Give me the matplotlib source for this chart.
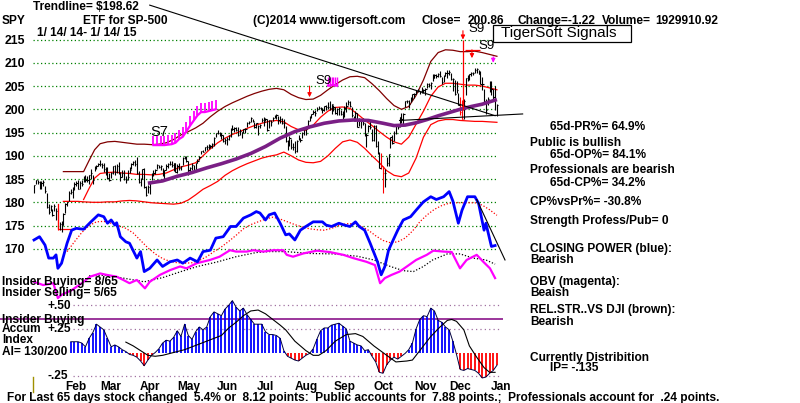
import matplotlib
matplotlib.use("Agg")
import matplotlib.pyplot as plt
from matplotlib.patches import Rectangle
import numpy as np

plt.rcParams['font.family'] = ['Liberation Sans', 'DejaVu Sans']

# SPY daily bars 1/14/14 - 1/14/15, one list per month
close_m = [
    [183.7, 184.7, 184.4, 183.6, 184.2, 184.3, 182.4, 178.9, 178.0, 179.1, 177.3, 179.2, 178.2],
    [174.2, 175.4, 175.2, 177.5, 179.7, 180.0, 182.1, 182.2, 183.0, 184.0, 184.2, 182.9, 184.1, 183.9, 185.0, 184.9, 184.9, 185.8, 186.3],
    [184.9, 187.6, 187.8, 188.2, 188.3, 188.1, 187.2, 187.4, 185.2, 184.7, 186.3, 187.7, 186.6, 187.8, 186.2, 185.4, 186.3, 185.0, 184.7, 185.5, 187.0],
    [188.3, 188.6, 188.2, 186.4, 184.3, 185.1, 187.1, 183.2, 181.5, 183.2, 184.2, 186.1, 186.4, 187.0, 188.0, 187.6, 187.8, 186.3, 186.9, 187.9, 188.3],
    [188.3, 188.1, 188.4, 186.6, 187.7, 187.4, 187.7, 189.6, 189.7, 188.8, 186.9, 187.4, 188.1, 186.9, 188.4, 188.9, 189.8, 191.0, 190.9, 191.9, 192.0],
    [192.4, 192.2, 192.6, 193.9, 194.8, 195.0, 195.0, 194.4, 193.1, 193.5, 193.7, 194.2, 195.6, 195.8, 195.9, 195.6, 194.5, 195.4, 195.1, 195.8, 195.7],
    [197.0, 197.2, 198.2, 197.5, 196.2, 197.0, 196.4, 196.6, 197.6, 197.2, 197.9, 195.6, 197.6, 197.2, 198.2, 198.6, 198.7, 197.8, 197.9, 197.0, 197.0, 193.1],
    [192.5, 193.9, 191.9, 192.0, 191.0, 193.2, 193.8, 193.5, 194.8, 195.7, 195.7, 197.4, 198.4, 198.9, 199.4, 199.2, 200.1, 200.3, 200.3, 199.8, 200.7],
    [200.6, 200.5, 200.2, 201.1, 200.5, 199.2, 200.0, 200.2, 198.9, 198.8, 200.3, 200.7, 201.6, 200.7, 198.7, 197.6, 199.2, 196.3, 197.9, 197.5, 197.0],
    [194.4, 194.4, 196.5, 196.3, 193.3, 196.5, 192.1, 190.5, 187.4, 187.7, 186.4, 186.3, 188.5, 190.3, 194.1, 192.7, 195.0, 196.4, 196.2, 198.4, 197.9, 199.0, 201.7],
    [201.8, 201.1, 202.3, 203.2, 203.3, 203.9, 204.2, 203.9, 204.2, 204.2, 204.4, 205.5, 205.2, 205.6, 206.7, 207.3, 207.1, 207.6, 207.2],
    [205.8, 207.1, 207.9, 207.7, 208.0, 206.6, 206.5, 203.2, 204.2, 200.9, 199.5, 197.9, 201.8, 206.8, 206.5, 207.5, 207.9, 207.9, 208.4, 208.7, 207.6, 205.5],
    [205.4, 201.7, 199.8, 202.3, 205.9, 204.3, 202.7, 202.1, 200.9],
]
high_m = [
    [183.8, 184.9, 184.8, 184.6, 184.6, 184.7, 183.6, 182.0, 179.6, 179.4, 178.5, 179.7, 178.8],
    [178.8, 175.8, 176.0, 177.6, 179.9, 180.1, 182.4, 182.8, 183.2, 184.4, 184.6, 184.9, 184.5, 184.9, 185.6, 185.9, 185.6, 185.9, 187.1],
    [185.9, 187.9, 188.0, 188.4, 189.0, 188.4, 188.4, 187.5, 187.6, 186.2, 186.6, 187.8, 188.1, 188.3, 188.7, 186.6, 187.0, 186.9, 185.6, 186.9, 187.6],
    [188.4, 188.8, 189.0, 189.7, 186.8, 185.3, 187.2, 187.4, 183.5, 183.8, 184.5, 186.3, 187.0, 187.1, 188.3, 188.0, 188.0, 187.4, 187.0, 188.3, 188.4],
    [188.9, 188.8, 188.5, 188.4, 188.2, 188.5, 187.9, 189.7, 190.0, 189.9, 188.9, 187.5, 188.5, 188.1, 188.5, 189.4, 189.9, 191.1, 191.3, 192.0, 192.3],
    [192.6, 192.4, 192.8, 194.1, 195.0, 195.5, 195.1, 194.8, 194.5, 193.8, 194.0, 194.4, 195.9, 196.6, 196.1, 196.2, 196.3, 195.7, 195.2, 195.8, 196.0],
    [197.3, 197.4, 198.3, 198.0, 197.3, 197.1, 196.6, 196.8, 198.1, 198.3, 198.1, 197.9, 197.7, 197.6, 198.3, 198.8, 198.9, 198.5, 198.5, 198.1, 197.9, 196.4],
    [193.4, 194.3, 193.6, 192.8, 193.2, 193.5, 194.4, 193.8, 195.1, 195.8, 196.2, 197.6, 198.6, 199.0, 199.8, 199.8, 200.6, 200.8, 200.6, 200.3, 200.8],
    [201.0, 201.6, 201.7, 201.2, 201.0, 200.6, 200.2, 200.4, 199.9, 199.6, 200.7, 201.5, 201.9, 201.8, 200.4, 198.6, 199.6, 199.2, 198.2, 197.6, 198.2],
    [197.0, 195.0, 196.6, 197.6, 195.8, 196.6, 196.6, 193.1, 190.9, 190.5, 187.8, 187.2, 189.8, 190.4, 194.1, 194.5, 195.4, 196.4, 196.8, 198.4, 199.2, 199.3, 201.8],
    [202.0, 201.9, 202.6, 203.3, 203.4, 204.1, 204.4, 204.0, 204.8, 204.4, 204.5, 205.7, 205.7, 205.8, 207.5, 207.5, 207.5, 207.7, 208.2],
    [207.0, 207.3, 208.1, 208.5, 208.5, 207.9, 206.7, 206.3, 206.1, 203.5, 202.6, 201.9, 202.3, 206.8, 207.3, 207.5, 208.0, 208.1, 208.9, 208.9, 208.5, 208.2],
    [206.9, 204.4, 202.3, 202.7, 206.0, 206.1, 204.4, 205.0, 201.1],
]
low_m = [
    [182.0, 183.9, 183.9, 182.8, 182.9, 183.6, 181.9, 178.8, 177.5, 178.1, 177.0, 178.1, 176.3],
    [174.0, 174.1, 173.7, 175.2, 177.7, 179.1, 180.2, 181.7, 180.9, 182.6, 183.6, 182.8, 182.8, 183.6, 184.3, 184.3, 184.3, 183.9, 185.1],
    [183.9, 186.7, 187.1, 187.7, 187.7, 187.4, 186.6, 185.8, 185.1, 184.6, 185.3, 186.1, 185.8, 186.4, 186.1, 184.6, 185.5, 184.9, 184.2, 184.8, 186.3],
    [187.1, 188.0, 187.8, 186.0, 184.2, 183.4, 185.1, 183.1, 181.3, 182.0, 181.7, 184.7, 185.6, 186.0, 187.2, 187.3, 186.9, 185.6, 185.0, 187.0, 187.4],
    [188.0, 187.6, 186.8, 186.5, 186.4, 186.9, 186.9, 188.0, 189.3, 188.6, 185.9, 186.3, 187.0, 186.5, 187.0, 188.5, 189.0, 190.3, 190.8, 191.0, 191.3],
    [191.4, 191.6, 191.6, 192.1, 194.0, 194.7, 194.3, 193.6, 192.9, 192.6, 192.4, 193.3, 194.0, 195.6, 195.2, 195.3, 194.3, 194.4, 193.9, 194.8, 195.0],
    [196.1, 196.8, 197.3, 197.2, 196.0, 196.0, 194.5, 195.9, 197.3, 196.4, 197.5, 195.3, 195.9, 196.4, 197.5, 198.1, 197.9, 196.8, 197.0, 196.9, 196.0, 193.0],
    [191.3, 192.1, 191.5, 191.2, 190.6, 190.8, 193.4, 192.9, 193.9, 194.5, 194.4, 196.1, 197.4, 198.2, 198.9, 198.6, 199.6, 200.0, 199.8, 199.1, 199.6],
    [199.8, 200.1, 199.8, 199.0, 199.7, 199.0, 198.8, 198.8, 198.7, 197.9, 198.4, 199.5, 201.0, 200.5, 198.4, 197.5, 197.5, 196.2, 196.4, 196.0, 196.6],
    [194.2, 191.8, 195.2, 195.7, 193.2, 193.1, 192.0, 190.3, 187.3, 187.2, 181.9, 183.2, 187.8, 187.7, 191.6, 192.6, 193.2, 194.6, 195.7, 196.3, 197.1, 196.8, 200.6],
    [201.4, 200.2, 201.6, 201.9, 202.4, 203.2, 203.8, 203.3, 203.6, 203.6, 203.1, 204.5, 204.7, 204.3, 206.1, 206.8, 206.8, 207.0, 207.0],
    [205.5, 205.8, 207.1, 206.7, 207.4, 206.2, 203.9, 203.1, 203.6, 200.9, 198.8, 197.9, 197.9, 203.1, 206.1, 206.4, 207.1, 207.4, 207.9, 207.7, 207.5, 205.5],
    [204.2, 201.4, 198.9, 200.9, 203.8, 203.1, 201.9, 199.9, 198.6],
]
red_bar_days = [13, 189, 190, 232, 233]

month_names = ['Feb', 'Mar', 'Apr', 'May', 'Jun', 'Jul', 'Aug', 'Sep', 'Oct', 'Nov', 'Dec', 'Jan']
month_start = [13, 32, 53, 74, 95, 116, 138, 159, 180, 203, 222, 244]
price_ticks = [215, 210, 205, 200, 195, 190, 185, 180, 175, 170]

# bands: upper (brown), 21-day ma and lower band (red), 65-day ma (purple)
up_days = [16, 27, 30, 33, 36] + list(range(40, 253, 4))
up_vals = [186.6, 186.6, 189.0, 191.3, 192.6,
           193.0, 193.1, 192.9, 192.7, 192.5, 192.5, 192.4, 192.5, 192.8, 193.5,
           194.5, 195.2, 196.0, 197.0, 198.4, 199.6, 200.6, 201.4, 202.1, 202.8,
           203.4, 203.9, 204.3, 204.5, 204.2, 203.2, 202.5, 202.1, 202.2, 203.0,
           204.2, 205.3, 206.3, 207.0, 207.1, 206.8, 205.5, 204.0, 202.3, 200.8,
           200.0, 200.6, 203.0, 206.3, 210.3, 212.2, 212.8, 212.7, 212.4, 212.4,
           212.5, 212.2, 211.8, 211.4]
mid_days = [27, 30, 33, 36] + list(range(40, 253, 4))
mid_vals = [180.6, 183.0, 185.2, 186.2,
            186.4, 186.5, 186.3, 186.2, 186.0, 186.0, 185.9, 186.0, 186.3, 187.0,
            187.6, 188.0, 188.5, 190.0, 191.5, 192.8, 193.8, 194.6, 195.2, 195.9,
            196.5, 197.0, 197.4, 197.6, 197.3, 196.3, 195.6, 195.5, 196.6, 198.3,
            199.6, 200.4, 200.5, 200.2, 199.0, 197.7, 196.5, 195.2, 194.0, 193.0,
            192.5, 194.0, 196.8, 199.6, 202.8, 204.8, 205.6, 205.6, 205.4, 205.2,
            205.2, 205.0, 204.6, 204.2]
lo_days = [16, 24, 27, 32, 36] + list(range(40, 253, 4))
lo_vals = [180.2, 180.2, 180.1, 180.0, 180.0,
           180.1, 180.1, 180.3, 180.4, 180.3, 180.1, 179.9, 179.8, 179.7, 179.6,
           179.8, 180.5, 181.6, 182.8, 183.6, 184.5, 185.8, 186.8, 187.6, 188.3,
           188.9, 189.5, 189.9, 190.2, 190.8, 190.0, 189.1, 188.6, 188.5, 188.8,
           190.0, 191.6, 193.0, 193.4, 192.9, 191.6, 190.0, 188.5, 186.8, 185.8,
           185.5, 186.3, 189.5, 194.0, 196.7, 197.5, 197.8, 197.8, 197.6, 197.5,
           197.4, 197.4, 197.3, 197.2]
ma65_days = [62, 70, 78, 86, 94, 102, 110, 118, 126, 134, 142, 150, 158, 166,
             174, 182, 190, 196, 202, 208, 214, 220, 226, 232, 238, 244, 252]
ma65_vals = [184.1, 184.6, 185.6, 186.4, 187.4, 188.3, 189.3, 190.5, 192.0, 193.8,
             195.2, 196.2, 197.0, 197.5, 197.7, 197.6, 197.0, 196.5, 196.6, 197.1,
             197.8, 198.6, 199.3, 200.0, 200.6, 201.1, 202.1]

# closing power (blue) and its ma, OBV (magenta) and its ma, drawn on the price scale
cp_days = [0, 3, 6, 8, 10.5, 12, 13, 15, 18, 20.5, 23, 27, 31, 35, 38, 40, 42, 44, 45, 47,
           50, 52, 56, 58, 60, 63, 67, 70, 74, 78, 81, 85, 89, 92, 96, 99, 103, 107, 110, 114,
           118, 121, 123, 126, 128, 131, 134, 137, 139, 142, 145, 148, 152, 157, 159, 162, 166,
           169, 172, 175, 177, 180, 183, 187, 189, 191, 193, 196, 198, 201, 205, 208, 212, 216,
           219, 223, 226, 228, 231, 233, 236, 240, 242, 245, 246, 249, 251]
cp_vals = [171.9, 172.6, 170.8, 168.0, 168.0, 168.7, 165.8, 166.9, 171.2, 174.0, 174.4, 174.2,
           175.8, 177.3, 176.9, 175.5, 176.2, 175.1, 175.6, 172.6, 171.5, 171.2, 168.0, 169.4,
           165.1, 165.8, 167.6, 166.2, 167.2, 167.6, 166.9, 168.0, 167.2, 169.4, 169.7, 172.3,
           172.6, 174.8, 174.8, 176.6, 177.3, 178.0, 177.7, 176.2, 177.3, 177.7, 175.5, 173.0,
           173.2, 171.9, 174.0, 174.8, 175.8, 175.8, 175.1, 174.8, 175.5, 175.1, 174.8, 175.8,
           174.8, 174.0, 171.2, 167.2, 164.4, 166.2, 169.7, 172.3, 174.0, 176.2, 176.9, 178.3,
           180.1, 181.2, 180.6, 181.2, 182.3, 180.3, 175.5, 178.3, 181.2, 181.2, 179.8, 174.0,
           175.5, 170.5, 170.7]
cpma_days = list(range(18, 231, 4)) + [236, 240, 244, 248, 252]
cpma_vals = [169.4, 171.5, 173.5, 175.0, 175.8, 175.9, 175.5, 175.0, 174.4, 173.4,
             171.8, 170.2, 168.9, 167.9, 167.3, 167.0, 166.9, 167.0, 167.5, 168.3,
             169.4, 170.4, 171.6, 172.9, 174.3, 175.2, 175.8, 176.4, 176.8, 176.4,
             175.8, 175.2, 174.7, 174.3, 174.1, 174.0, 174.4, 175.0, 175.4, 175.4,
             174.9, 174.0, 172.8, 171.8, 171.3, 171.5, 172.3, 173.8, 175.8, 177.3,
             178.5, 179.3, 179.8, 179.9, 179.9, 179.9, 179.4, 178.4, 177.2]
obv_days = [0, 5, 10.5, 13, 15, 20.5, 26, 30.5, 36, 39.5, 45, 48.6, 52, 56, 60.4, 63, 68.6,
            74, 79.5, 83, 88.6, 95.8, 101, 106.7, 110, 115.8, 119.4, 124.8, 130.3, 135.7,
            137.6, 141, 146.6, 154, 161, 168.4, 173.8, 181, 185.6, 188.4, 191, 194.7, 199,
            203, 208, 213.8, 217.4, 223, 227.4, 231.9, 235.5, 241, 244.6, 248.2, 251]
obv_vals = [162.9, 162.2, 162.6, 159.4, 160.1, 161.1, 162.6, 164.0, 164.7, 164.4, 164.0,
            163.3, 162.6, 163.3, 161.5, 162.9, 164.4, 165.4, 166.2, 165.8, 166.9, 167.6,
            168.3, 169.7, 169.4, 169.4, 169.7, 169.4, 169.7, 169.7, 168.7, 168.3, 169.0,
            169.6, 169.3, 168.7, 168.0, 167.2, 166.5, 162.6, 163.7, 164.4, 165.1, 166.2,
            167.6, 168.7, 169.6, 169.4, 169.3, 165.8, 167.6, 168.7, 167.2, 165.8, 163.7]
obvma_days = [30, 40, 50, 60, 70, 80, 89, 100, 110, 121, 128, 137, 150, 163, 176, 185,
              194, 201, 206.5, 212, 217, 225, 232, 239, 246, 251]
obvma_vals = [164.2, 164.3, 163.6, 162.9, 163.8, 165.1, 166.2, 167.2, 168.3, 169.2, 169.4,
              169.4, 169.0, 168.9, 168.4, 167.6, 166.2, 165.3, 165.1, 166.2, 167.6, 168.9,
              168.9, 168.0, 167.6, 166.7]

# trendlines
tl_days, tl_vals = [63, 251], [222.4, 198.62]
sup_days, sup_vals = [199, 266], [197.6, 199.0]
cpt_days, cpt_vals = [241, 256.4], [180.6, 167.6]
feb_x, feb_y = [13, 13, 20.5], [179.6, 174.3, 174.3]

# signals
s7_days = list(range(65, 100, 2))
s7_top = [194.3, 194.3, 194.3, 194.3, 194.4, 194.5, 194.8, 195.6, 196.1, 197.3, 198.5,
          199.6, 200.7, 201.4, 201.4, 201.6, 201.8, 202.0]
s9_days = [160, 161, 162, 163, 164, 165]
s9_top = [206.9, 206.9, 207.0, 207.0, 206.9, 206.9]
red_arr_days = [150, 233.5, 238.4]
red_arr_top = [205.0, 216.9, 212.8]
red_arr_bot = [202.6, 215.0, 211.0]
mag_arr_day, mag_arr_top, mag_arr_bot = 250, 211.3, 210.0

# accumulation index, every 2nd day from day 20
ai_days = list(range(20, 253, 2))
ai_vals = [0.114, 0.114, 0.114, 0.10, 0.06, 0.15, 0.21, 0.30, 0.27, 0.24,
           0.15, 0.06, 0.08, 0.06, 0.03, 0.01, -0.02, -0.03, -0.05, -0.09,
           -0.14, -0.08, -0.03, 0.0, 0.04, 0.10, 0.13, 0.12, 0.16, 0.23,
           0.17, 0.30, 0.18, 0.14, 0.22, 0.27, 0.24, 0.27, 0.38, 0.43,
           0.41, 0.39, 0.46, 0.50, 0.55, 0.48, 0.44, 0.47, 0.40, 0.35,
           0.30, 0.30, 0.30, 0.22, 0.19, 0.19, 0.18, 0.15, 0.02, -0.04,
           -0.06, -0.08, -0.09, -0.06, -0.03, -0.01, 0.04, 0.14, 0.23, 0.26,
           0.26, 0.29, 0.30, 0.31, 0.28, 0.25, 0.12, 0.10, 0.08, 0.07,
           0.02, 0.03, -0.04, -0.10, -0.21, -0.22, -0.13, -0.08, -0.05, -0.07,
           -0.04, -0.01, 0.03, 0.10, 0.25, 0.35, 0.39, 0.38, 0.47, 0.44,
           0.34, 0.32, 0.27, 0.24, 0.12, -0.02, -0.18, -0.19, -0.17, -0.18,
           -0.19, -0.22, -0.27, -0.26, -0.22, -0.19, -0.135]
aima_days = [50, 54, 58, 62, 66, 70, 74, 78, 82, 86, 90, 94, 98, 102, 106, 110, 114, 118,
             122, 126, 130, 134, 137, 142, 148, 152, 155, 159, 164, 170, 175, 179, 185, 192,
             197, 203, 206, 210, 216, 221, 225, 227.4, 230, 234, 237, 241, 245, 248, 251]
aima_vals = [0.11, 0.07, 0.02, -0.03, -0.04, -0.03, -0.01, 0.01, 0.03, 0.06, 0.09, 0.12,
             0.15, 0.18, 0.26, 0.32, 0.39, 0.44, 0.45, 0.41, 0.35, 0.29, 0.24, 0.12, 0.02,
             -0.03, -0.03, 0.02, 0.12, 0.19, 0.20, 0.17, 0.07, -0.03, -0.10, -0.09, -0.08,
             0.02, 0.17, 0.27, 0.34, 0.35, 0.33, 0.24, 0.07, -0.05, -0.16, -0.21, -0.21]
insider_level = 0.352

close = np.array(sum(close_m, []))
high = np.array(sum(high_m, []))
low = np.array(sum(low_m, []))
days = np.arange(len(close))

# pixel layout of the original picture
X0, XS = 34.0, 1.837      # pixel of day 0, pixels per day
Y0, YS = 109.3, 4.65      # pixel of $200, pixels per dollar
A0, AS = 352.5, 94.4      # pixel of AI zero, pixels per unit
FS = 8.6                  # main bold text size

fig = plt.figure(figsize=(8, 4.03), dpi=100)
fig.patch.set_facecolor('white')

ax = fig.add_axes([0, 0, 1, 1], label='price')
ax.set_xlim(-X0 / XS, (800 - X0) / XS)
ax.set_ylim(200 - (403 - Y0) / YS, 200 + Y0 / YS)
for s in ax.spines.values():
    s.set_visible(False)
ax.set_xticks([])
ax.set_yticks(price_ticks)
ax.set_yticklabels([str(t) for t in price_ticks], fontweight='bold', fontsize=8.8)
ax.tick_params(axis='y', length=0, pad=-18)

ax.hlines(price_ticks, -0.5, 252.5, colors='#008000', linestyles=(0, (1, 2)), lw=0.9)

ax.plot(up_days, up_vals, color='#800000', lw=0.9)
ax.plot(mid_days, mid_vals, color='#ff0000', lw=0.9)
ax.plot(lo_days, lo_vals, color='#ff0000', lw=0.9)
ax.plot(feb_x, feb_y, color='#ff0000', lw=0.9)

bar_col = ['#ff0000' if d in red_bar_days else 'black' for d in days]
ax.vlines(days, low, high, colors=bar_col, lw=0.8)
ax.hlines(close, days, days + 0.7, colors=bar_col, lw=0.8)

ax.plot(ma65_days, ma65_vals, color='#7a1f85', lw=2.6, solid_capstyle='butt')

ax.plot(cpma_days, cpma_vals, color='#ff0000', lw=0.9, linestyle=(0, (1, 1.5)))
ax.plot(obvma_days, obvma_vals, color='black', lw=0.9, linestyle=(0, (1, 1.5)))
ax.plot(obv_days, obv_vals, color='#ff00ff', lw=1.6)
ax.plot(cp_days, cp_vals, color='#0000ff', lw=2.0)

ax.plot(tl_days, tl_vals, color='black', lw=0.8)
ax.plot(sup_days, sup_vals, color='black', lw=0.8)
ax.plot(cpt_days, cpt_vals, color='black', lw=0.8)

s7_top = np.array(s7_top)
ax.vlines(s7_days, s7_top - 2.0, s7_top, colors='#ff00ff', lw=1.3)
ax.plot(s7_days, s7_top - 2.0, color='#ff00ff', lw=1.6)
s9_top = np.array(s9_top)
ax.vlines(s9_days, s9_top - 1.8, s9_top, colors='#ff00ff', lw=1.0)
ax.plot(s9_days, s9_top - 1.8, color='#ff00ff', lw=1.6)

arrow = dict(arrowstyle='-|>', lw=0.8, mutation_scale=6, shrinkA=0, shrinkB=0)
for d, t, b in zip(red_arr_days, red_arr_top, red_arr_bot):
    ax.annotate('', xy=(d, b), xytext=(d, t), arrowprops=dict(arrow, color='#ff0000'))
ax.annotate('', xy=(mag_arr_day, mag_arr_bot), xytext=(mag_arr_day, mag_arr_top),
            arrowprops=dict(arrow, color='#ff00ff'))
ax.vlines(red_arr_days[1], 199.8, red_arr_bot[1], colors='#ff0000', lw=0.9)
ax.hlines(red_arr_top[2], 234.6, 242.8, colors='#ff0000', lw=0.9)

# accumulation index panel
ax2 = fig.add_axes([0, 0, 1, 1], label='ai')
ax2.patch.set_visible(False)
ax2.set_xlim(ax.get_xlim())
ax2.set_ylim(-(403 - A0) / AS, A0 / AS)
for s in ax2.spines.values():
    s.set_visible(False)
ax2.set_yticks([])
ax2.set_xticks([m + 10 for m in month_start])
ax2.set_xticklabels(month_names, fontweight='bold', fontsize=FS)
ax2.tick_params(axis='x', length=0, pad=-15.5)

ax2.hlines([0.5, 0.25, -0.25], 21, 253.7, colors='#a070a0', linestyles=(0, (1, 2.5)), lw=0.9)
ax2.hlines(insider_level, -18.5, 255.3, colors='#800080', lw=1.1)
ai = np.array(ai_vals)
ax2.vlines(ai_days, 0, ai, colors=['#0000ff' if v >= 0 else '#ff0000' for v in ai], lw=1.3)
ax2.plot(ai_days, ai, color='#000040', lw=0.7)
ax2.plot(aima_days, aima_vals, color='black', lw=0.8)

# texts, in pixel layout
axt = fig.add_axes([0, 0, 1, 1], label='txt')
axt.set_xlim(0, 800)
axt.set_ylim(403, 0)
axt.axis('off')


def txt(x, y, s, size=FS, weight='bold', **kw):
    axt.text(x, y, s, fontsize=size, fontweight=weight, ha='left', va='center', **kw)


txt(33, 7.5, 'Trendline= $198.62')
txt(2, 21, 'SPY')
txt(83, 21, 'ETF for SP-500')
txt(253, 21, '(C)2014 www.tigersoft.com')
txt(422, 21, 'Close=')
txt(468, 21, '200.86')
txt(517, 21, 'Change=-1.22')
txt(602, 21, 'Volume=')
txt(655, 21, '1929910.92')
txt(37, 33, '1/ 14/ 14- 1/ 14/ 15')

axt.add_patch(Rectangle((492.7, 25), 138, 16.7, facecolor='white', edgecolor='black', lw=0.9))
txt(501, 33.5, 'TigerSoft Signals', size=11, weight='normal')

txt(150, 132, 'S7', size=10.5, weight='normal')
txt(315, 81, 'S9', size=9.5, weight='normal')
txt(468, 29, 'S9', size=9.5, weight='normal')
txt(478, 46, 'S9', size=9.5, weight='normal')

right = [(550, 126.7, '65d-PR%= 64.9%'), (530, 143.3, 'Public is bullish'),
         (550, 155, '65d-OP%= 84.1%'), (530, 170, 'Professionals are bearish'),
         (550, 182.5, '65d-CP%= 34.2%'), (530, 201.7, 'CP%vsPr%= -30.8%'),
         (530, 221.3, 'Strength Profess/Pub= 0'), (530, 249.3, 'CLOSING POWER (blue):'),
         (530, 260, 'Bearish'), (530, 281.7, 'OBV (magenta):'), (530, 293, 'Beaish'),
         (530, 310, 'REL.STR..VS DJI (brown):'), (530, 321.7, 'Bearish'),
         (530, 358, 'Currently Distribition'), (550, 368, 'IP= -.135')]
for x, y, s in right:
    txt(x, y, s)

left = [(2, 281.7, 'Insider Buying= 8/65'), (2, 293, 'Insider Selling= 5/65'),
        (47, 306, '+.50'), (2, 319.5, 'Insider Buying'), (2, 329.5, 'Accum'), (48, 329.5, '+.25'),
        (2, 340, 'Index'), (2, 351.7, 'AI= 130/200'), (47, 376, '-.25')]
for x, y, s in left:
    txt(x, y, s)

axt.plot([32.5, 32.5], [377, 392], color='#a09000', lw=1)
txt(7, 397.8, 'For Last 65 days stock changed  5.4% or  8.12 points:  Public accounts for  '
              '7.88 points.;  Professionals account for  .24 points.', size=8.55)

fig.savefig('out.png', dpi=100, facecolor='white')
